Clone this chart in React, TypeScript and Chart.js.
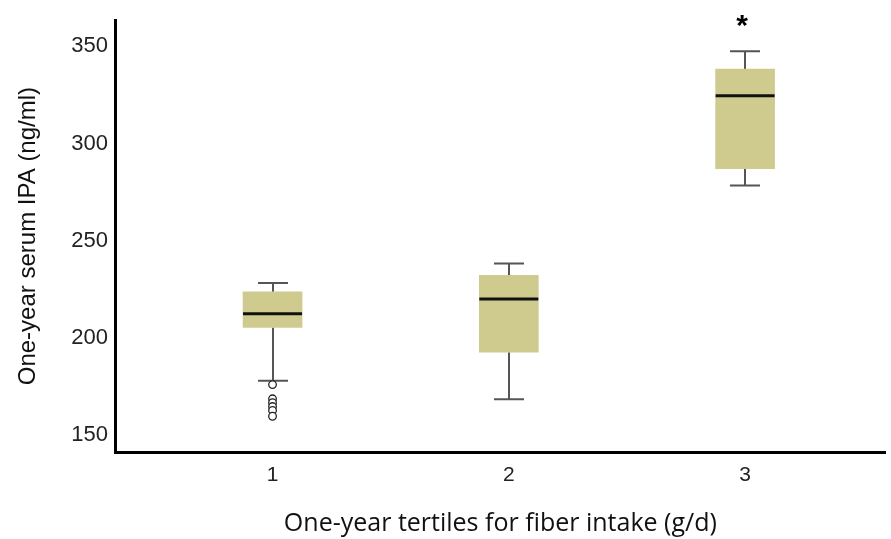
import React, { useEffect, useRef } from "react";
import { Chart, registerables } from "chart.js";

Chart.register(...registerables);

// ---- data ----
const categories = [1, 2, 3];
const categoryLabels = ["1", "2", "3"];
const whiskerLow = [177.9, 168.3, 278.4];
const q1 = [205.3, 192.6, 287.1];
const median = [212.4, 220.0, 324.6];
const q3 = [223.6, 232.2, 338.3];
const whiskerHigh = [228.2, 238.3, 347.5];
const outlierGroup = [1, 1, 1, 1, 1, 1];
const outlierValues = [175.9, 168.6, 166.6, 164.6, 162.6, 159.6];
const significance = ["", "", "*"];
const yTicks = [150, 200, 250, 300, 350];
const yTitle = "One-year serum IPA (ng/ml)";
const xTitle = "One-year tertiles for fiber intake (g/d)";

const BOX_W = 59;
const CAP_W = 30;

const boxPlugin = {
  id: "boxWhiskers",
  beforeDatasetsDraw(chart: any) {
    const { ctx, scales } = chart;
    const xs = scales.x;
    const ys = scales.y;
    ctx.save();
    ctx.strokeStyle = "#555555";
    ctx.lineWidth = 2;
    categories.forEach((c, i) => {
      const x = Math.round(xs.getPixelForValue(c));
      const yH = ys.getPixelForValue(whiskerHigh[i]);
      const yQ3 = ys.getPixelForValue(q3[i]);
      const yQ1 = ys.getPixelForValue(q1[i]);
      const yL = ys.getPixelForValue(whiskerLow[i]);
      ctx.beginPath();
      ctx.moveTo(x, yQ3);
      ctx.lineTo(x, yH);
      ctx.moveTo(x - CAP_W / 2, yH);
      ctx.lineTo(x + CAP_W / 2, yH);
      ctx.moveTo(x, yQ1);
      ctx.lineTo(x, yL);
      ctx.moveTo(x - CAP_W / 2, yL);
      ctx.lineTo(x + CAP_W / 2, yL);
      ctx.stroke();
    });
    ctx.restore();
  },
  afterDatasetsDraw(chart: any) {
    const { ctx, scales } = chart;
    const xs = scales.x;
    const ys = scales.y;
    ctx.save();
    ctx.strokeStyle = "#111111";
    ctx.lineWidth = 3;
    categories.forEach((c, i) => {
      const x = xs.getPixelForValue(c);
      const yM = ys.getPixelForValue(median[i]);
      ctx.beginPath();
      ctx.moveTo(x - BOX_W / 2, yM);
      ctx.lineTo(x + BOX_W / 2, yM);
      ctx.stroke();
      if (significance[i]) {
        const yH = ys.getPixelForValue(whiskerHigh[i]);
        ctx.fillStyle = "#000";
        ctx.font = 'bold 30px "Liberation Sans", Arial, sans-serif';
        ctx.textAlign = "center";
        ctx.textBaseline = "alphabetic";
        ctx.fillText(significance[i], x - 3, yH - 16);
      }
    });
    ctx.restore();
  },
};

export default function App() {
  const ref = useRef<HTMLCanvasElement>(null);
  useEffect(() => {
    if (!ref.current) return;
    const chart = new Chart(ref.current, {
      type: "bar",
      data: {
        datasets: [
          {
            type: "bar",
            data: categories.map((c, i) => ({ x: c, y: [q1[i], q3[i]] })) as any,
            backgroundColor: "rgb(207,203,143)",
            borderWidth: 0,
            barThickness: BOX_W,
          } as any,
          {
            type: "scatter",
            data: outlierGroup.map((g, i) => ({ x: g, y: outlierValues[i] })),
            pointRadius: 3.8,
            pointBackgroundColor: "#ffffff",
            pointBorderColor: "#222222",
            pointBorderWidth: 1.3,
          } as any,
        ],
      },
      plugins: [boxPlugin],
      options: {
        responsive: false,
        animation: false,
        layout: { padding: { top: 16, left: 0, right: 0, bottom: 0 } },
        plugins: { legend: { display: false }, tooltip: { enabled: false } },
        scales: {
          x: {
            type: "linear",
            offset: false,
            min: 0.3333,
            max: 3.595,
            afterBuildTicks: (s: any) => {
              s.ticks = categories.map((v) => ({ value: v }));
            },
            afterFit: (s: any) => {
              s.height = 87;
            },
            grid: { display: false, drawTicks: false, offset: false },
            border: { display: true, width: 3, color: "#000" },
            ticks: {
              callback: (v: any) => categoryLabels[categories.indexOf(v)] ?? "",
              font: { family: '"Liberation Sans", Arial, sans-serif', size: 21 },
              color: "#222",
              padding: 11,
              maxRotation: 0,
            },
            title: {
              display: true,
              text: xTitle,
              font: { family: '"Open Sans", sans-serif', size: 25 },
              color: "#111",
              padding: { top: 0, bottom: 0 },
            },
          },
          y: {
            type: "linear",
            min: 141.2,
            max: 363.5,
            afterBuildTicks: (s: any) => {
              s.ticks = yTicks.map((v) => ({ value: v }));
            },
            afterFit: (s: any) => {
              s.width = 115;
            },
            grid: { display: false, drawTicks: false },
            border: { display: true, width: 3, color: "#000" },
            ticks: {
              font: { family: '"Liberation Sans", Arial, sans-serif', size: 22 },
              color: "#222",
              padding: 7,
            },
            title: {
              display: true,
              text: yTitle,
              font: { family: '"Liberation Sans", Arial, sans-serif', size: 24 },
              color: "#111",
              padding: { top: 14, bottom: 0 },
            },
          },
        },
      } as any,
    });
    return () => chart.destroy();
  }, []);
  return (
    <div style={{ position: "fixed", left: 0, top: 0, width: 891, height: 539, background: "#fff" }}>
      <canvas ref={ref} width={891} height={539} />
    </div>
  );
}
